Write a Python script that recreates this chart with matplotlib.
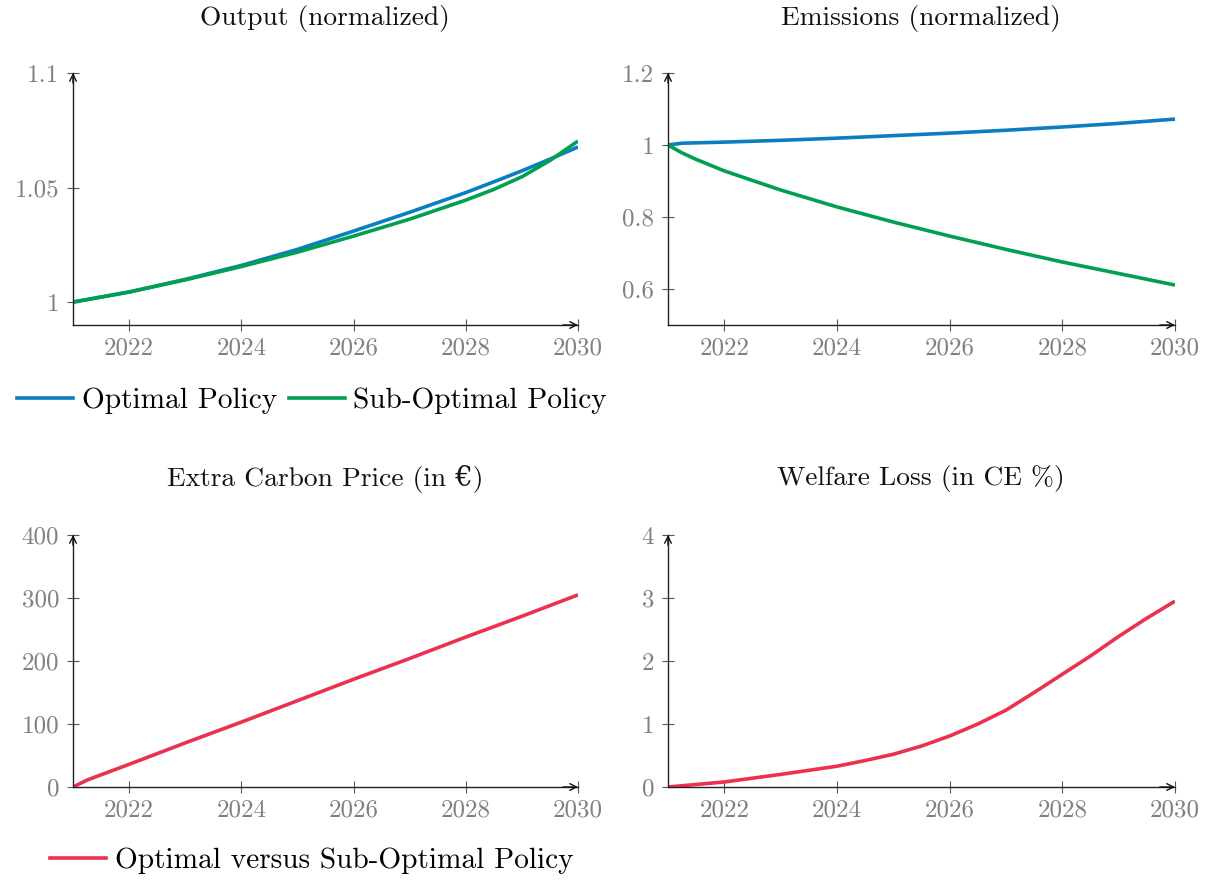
import matplotlib
matplotlib.use("Agg")
import matplotlib.pyplot as plt
from matplotlib.lines import Line2D

plt.rcParams['font.family'] = ['cmr10', 'DejaVu Serif']
plt.rcParams['axes.unicode_minus'] = False

# colours
BLUE = '#0b7dc1'
GREEN = '#00a050'
RED = '#ec3050'

# output (normalized)
out_years = [2021, 2022, 2023, 2024, 2025, 2026, 2027, 2028, 2028.5, 2029, 2029.5, 2030]
out_opt = [1.0, 1.0044, 1.0099, 1.0160, 1.0230, 1.0310, 1.0392, 1.0478, 1.0525,
           1.0573, 1.0624, 1.0677]
out_sub = [1.0, 1.0044, 1.0097, 1.0155, 1.0218, 1.0288, 1.0362, 1.0445, 1.0492,
           1.0547, 1.0618, 1.0703]

# emissions (normalized)
em_years = [2021, 2021.25, 2021.5, 2022, 2023, 2024, 2025, 2026, 2027, 2028, 2029, 2030]
em_opt = [1.0, 1.005, 1.006, 1.008, 1.013, 1.019, 1.026, 1.033, 1.041, 1.050, 1.060, 1.072]
em_sub = [1.0, 0.978, 0.960, 0.928, 0.875, 0.828, 0.786, 0.747, 0.710, 0.675, 0.643, 0.611]

# extra carbon price (in EUR)
cp_years = [2021, 2021.25, 2022, 2023, 2024, 2025, 2026, 2027, 2028, 2029, 2030]
cp_vals = [0, 11, 36, 70, 103, 137, 171, 204, 238, 271, 305]

# welfare loss (in CE %)
wl_years = [2021, 2022, 2023, 2024, 2024.5, 2025, 2025.5, 2026, 2026.5, 2027, 2027.5,
            2028, 2028.5, 2029, 2029.5, 2030]
wl_vals = [0.0, 0.08, 0.20, 0.33, 0.42, 0.52, 0.65, 0.81, 1.00, 1.22, 1.50,
           1.79, 2.08, 2.39, 2.68, 2.95]

xticks = [2022, 2024, 2026, 2028, 2030]


def style_axes(ax, ylim, yticks, ylabels):
    ax.set_xlim(2021, 2030)
    ax.set_ylim(*ylim)
    ax.set_xticks(xticks)
    ax.set_xticklabels([str(t) for t in xticks])
    ax.set_yticks(yticks)
    ax.set_yticklabels(ylabels)
    for s in ['top', 'right']:
        ax.spines[s].set_visible(False)
    for s in ['left', 'bottom']:
        ax.spines[s].set_color('#222222')
        ax.spines[s].set_linewidth(1.0)
    ax.tick_params(direction='inout', length=8, width=0.8, color='#555555',
                   labelcolor='#808080', labelsize=18)
    ax.tick_params(axis='x', pad=5)
    ax.tick_params(axis='y', pad=6)
    # arrow tips at the axis ends
    ax.annotate('', xy=(1.0, 0), xytext=(0.97, 0), xycoords='axes fraction',
                arrowprops=dict(arrowstyle='->', color='#111111', lw=1.0,
                                shrinkA=0, shrinkB=0, mutation_scale=12))
    ax.annotate('', xy=(0, 1.0), xytext=(0, 0.96), xycoords='axes fraction',
                arrowprops=dict(arrowstyle='->', color='#111111', lw=1.0,
                                shrinkA=0, shrinkB=0, mutation_scale=12))


fig = plt.figure(figsize=(12.07, 8.82), dpi=100)

W = 505 / 1207
H = 252 / 882
ax1 = fig.add_axes([73 / 1207, 1 - 325 / 882, W, H])
ax2 = fig.add_axes([668 / 1207, 1 - 325 / 882, 507 / 1207, H])
ax3 = fig.add_axes([73 / 1207, 1 - 787 / 882, W, H])
ax4 = fig.add_axes([668 / 1207, 1 - 787 / 882, 507 / 1207, H])

lw = 2.6
ax1.plot(out_years, out_opt, color=BLUE, lw=lw, solid_capstyle='butt')
ax1.plot(out_years, out_sub, color=GREEN, lw=lw, solid_capstyle='butt')
style_axes(ax1, (0.99, 1.1), [1.0, 1.05, 1.1], ['1', '1.05', '1.1'])

ax2.plot(em_years, em_opt, color=BLUE, lw=lw, solid_capstyle='butt')
ax2.plot(em_years, em_sub, color=GREEN, lw=lw, solid_capstyle='butt')
style_axes(ax2, (0.5, 1.2), [0.6, 0.8, 1.0, 1.2], ['0.6', '0.8', '1', '1.2'])

ax3.plot(cp_years, cp_vals, color=RED, lw=lw, solid_capstyle='butt')
style_axes(ax3, (0, 400), [0, 100, 200, 300, 400], ['0', '100', '200', '300', '400'])

ax4.plot(wl_years, wl_vals, color=RED, lw=lw, solid_capstyle='butt')
style_axes(ax4, (0, 4), [0, 1, 2, 3, 4], ['0', '1', '2', '3', '4'])

title_kw = dict(ha='center', va='center', fontsize=19.8, color='#111111')
fig.text(325 / 1207, 1 - 18 / 882, 'Output (normalized)', **title_kw)
fig.text(921 / 1207, 1 - 18 / 882, 'Emissions (normalized)', **title_kw)
fig.text(325 / 1207, 1 - 479 / 882, 'Extra Carbon Price (in €)', **title_kw)
fig.text(921 / 1207, 1 - 479 / 882, 'Welfare Loss (in CE %)', **title_kw)

h1 = [Line2D([], [], color=BLUE, lw=lw), Line2D([], [], color=GREEN, lw=lw)]
fig.legend(h1, ['Optimal Policy', 'Sub-Optimal Policy'], loc='center',
           bbox_to_anchor=(312 / 1207, 1 - 401 / 882), ncol=2, frameon=False,
           fontsize=21.2, handlelength=1.9, handletextpad=0.3, columnspacing=0.4)
h2 = [Line2D([], [], color=RED, lw=lw)]
fig.legend(h2, ['Optimal versus Sub-Optimal Policy'], loc='center',
           bbox_to_anchor=(312 / 1207, 1 - 861 / 882), frameon=False,
           fontsize=21.2, handlelength=1.9, handletextpad=0.3)

fig.savefig('out.png', dpi=100)
